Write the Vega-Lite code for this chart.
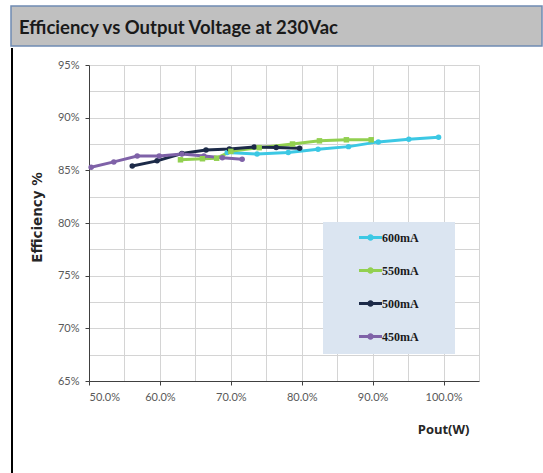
{
  "$schema": "https://vega.github.io/schema/vega-lite/v6.json",
  "padding": {"left": 10, "top": 5, "right": 0, "bottom": 0},
  "background": "white",
  "config": {
    "view": {"stroke": null},
    "font": "Lato",
    "axis": {"labelFont": "Lato", "labelFontSize": 11, "labelColor": "#595959", "domainColor": "#404040", "tickColor": "#404040", "tickSize": 4, "titleColor": "#262626"}
  },
  "spacing": 0,
  "vconcat": [
    {
      "width": 531,
      "height": 40,
      "view": {"fill": "#c0c0c0", "stroke": "#6f8bb3", "strokeWidth": 1.5},
      "title": {"text": "Efficiency vs Output Voltage at 230Vac", "anchor": "start", "frame": "group", "orient": "top", "offset": -31, "dx": 8, "font": "Lato", "fontSize": 18.5, "fontWeight": "bold", "color": "#1a1a1a"},
      "data": {"values": [{}]},
      "mark": {"type": "point", "opacity": 0, "size": 0},
      "encoding": {}
    },
    {
      "columns": 2,
      "align": "none",
      "spacing": {"row": 0, "column": 0},
      "concat": [
        {
          "width": 19,
          "height": 1,
          "data": {"values": [{}]},
          "mark": {"type": "point", "opacity": 0, "size": 0},
          "encoding": {}
        },
        {
          "width": 1,
          "height": 1,
          "data": {"values": [{}]},
          "mark": {"type": "point", "opacity": 0, "size": 0},
          "encoding": {}
        },
        {
          "width": 2,
          "height": 426,
          "view": {"fill": "#000000", "stroke": null},
          "data": {"values": [{}]},
          "mark": {"type": "point", "opacity": 0, "size": 0},
          "encoding": {}
        },
        {
          "width": 390,
          "height": 316,
          "data": {"values": [
            {"series": "600mA", "pout": 69.5, "eff": 86.7},
            {"series": "600mA", "pout": 73.7, "eff": 86.55},
            {"series": "600mA", "pout": 78.1, "eff": 86.7},
            {"series": "600mA", "pout": 82.3, "eff": 87.0},
            {"series": "600mA", "pout": 86.6, "eff": 87.25},
            {"series": "600mA", "pout": 90.8, "eff": 87.7},
            {"series": "600mA", "pout": 95.1, "eff": 87.95},
            {"series": "600mA", "pout": 99.3, "eff": 88.15},
            {"series": "550mA", "pout": 62.9, "eff": 86.0},
            {"series": "550mA", "pout": 66.0, "eff": 86.1},
            {"series": "550mA", "pout": 68.0, "eff": 86.15},
            {"series": "550mA", "pout": 70.0, "eff": 86.8},
            {"series": "550mA", "pout": 74.0, "eff": 87.15},
            {"series": "550mA", "pout": 78.7, "eff": 87.5},
            {"series": "550mA", "pout": 82.5, "eff": 87.8},
            {"series": "550mA", "pout": 86.3, "eff": 87.9},
            {"series": "550mA", "pout": 89.8, "eff": 87.9},
            {"series": "500mA", "pout": 56.1, "eff": 85.42},
            {"series": "500mA", "pout": 59.6, "eff": 85.9},
            {"series": "500mA", "pout": 63.1, "eff": 86.6},
            {"series": "500mA", "pout": 66.5, "eff": 86.94},
            {"series": "500mA", "pout": 69.8, "eff": 87.03},
            {"series": "500mA", "pout": 73.3, "eff": 87.22},
            {"series": "500mA", "pout": 76.4, "eff": 87.16},
            {"series": "500mA", "pout": 79.7, "eff": 87.1},
            {"series": "450mA", "pout": 50.3, "eff": 85.3},
            {"series": "450mA", "pout": 53.5, "eff": 85.8},
            {"series": "450mA", "pout": 56.8, "eff": 86.35},
            {"series": "450mA", "pout": 59.9, "eff": 86.35},
            {"series": "450mA", "pout": 63.1, "eff": 86.55},
            {"series": "450mA", "pout": 66.2, "eff": 86.35},
            {"series": "450mA", "pout": 68.8, "eff": 86.2},
            {"series": "450mA", "pout": 71.6, "eff": 86.05}
          ]},
          "resolve": {"axis": {"x": "independent", "y": "independent"}},
          "layer": [
            {
              "mark": {"type": "line", "strokeWidth": 3},
              "encoding": {
                "x": {"field": "pout", "type": "quantitative", "scale": {"domain": [50, 105], "nice": false, "zero": false},
                  "axis": {"values": [50, 60, 70, 80, 90, 100], "labelExpr": "format(datum.value, '.1f') + '%'", "grid": false, "title": "Pout(W)", "titleFont": "Open Sans", "titleFontSize": 13, "titleFontWeight": "bold", "titleX": 380, "titleY": 48, "titleAlign": "right", "titleBaseline": "middle", "labelPadding": 6}},
                "y": {"field": "eff", "type": "quantitative", "scale": {"domain": [65, 95], "nice": false, "zero": false},
                  "axis": {"values": [65, 70, 75, 80, 85, 90, 95], "labelExpr": "datum.value + '%'", "grid": false, "title": "Efficiency %", "titleFont": "DejaVu Sans", "titleFontSize": 13.5, "titleFontWeight": "bold", "titlePadding": 13, "titleY": 152, "labelPadding": 6}},
                "color": {"field": "series", "type": "nominal",
                  "scale": {"domain": ["600mA", "550mA", "500mA", "450mA"], "range": ["#3cc8e4", "#92d050", "#1c2a48", "#7f62a8"]},
                  "legend": {"orient": "none", "legendX": 312, "legendY": 216, "title": ".", "titleOrient": "right", "titlePadding": 24, "titleOpacity": 0, "fillColor": "#dbe5f1", "padding": 9, "rowPadding": 16, "symbolType": "M-2.3,0H2.3M-0.35,0A0.35,0.35 0 1 1 0.35,0A0.35,0.35 0 1 1 -0.35,0", "symbolSize": 100, "symbolStrokeWidth": 3, "symbolOffset": 32, "labelOffset": 5, "labelFont": "Liberation Serif", "labelFontWeight": "bold", "labelFontSize": 12, "labelColor": "#1a1a1a", "zindex": 1}}
              }
            },
            {
              "transform": [{"filter": "datum.series != '550mA'"}],
              "mark": {"type": "point", "filled": true, "opacity": 1, "shape": "circle", "size": 30},
              "encoding": {
                "x": {"field": "pout", "type": "quantitative",
                  "axis": {"values": [55, 60, 65, 70, 75, 80, 85, 90, 95, 100, 105], "grid": true, "gridColor": "#d4d4d4", "labels": false, "ticks": false, "domain": false, "title": null}},
                "y": {"field": "eff", "type": "quantitative",
                  "axis": {"values": [67.5, 70, 72.5, 75, 77.5, 80, 82.5, 85, 87.5, 90, 92.5, 95], "grid": true, "gridColor": "#d4d4d4", "labels": false, "ticks": false, "domain": false, "title": "|", "titleOpacity": 0, "titleAngle": 0, "titleX": -10, "titleY": -17, "titleAlign": "left", "titleBaseline": "top", "titleFontSize": 10}},
                "color": {"field": "series", "type": "nominal"}
              }
            },
            {
              "transform": [{"filter": "datum.series == '550mA'"}],
              "mark": {"type": "point", "filled": true, "opacity": 1, "shape": "square", "size": 30},
              "encoding": {
                "x": {"field": "pout", "type": "quantitative", "axis": null},
                "y": {"field": "eff", "type": "quantitative", "axis": null},
                "color": {"field": "series", "type": "nominal"}
              }
            }
          ]
        }
      ]
    }
  ]
}
